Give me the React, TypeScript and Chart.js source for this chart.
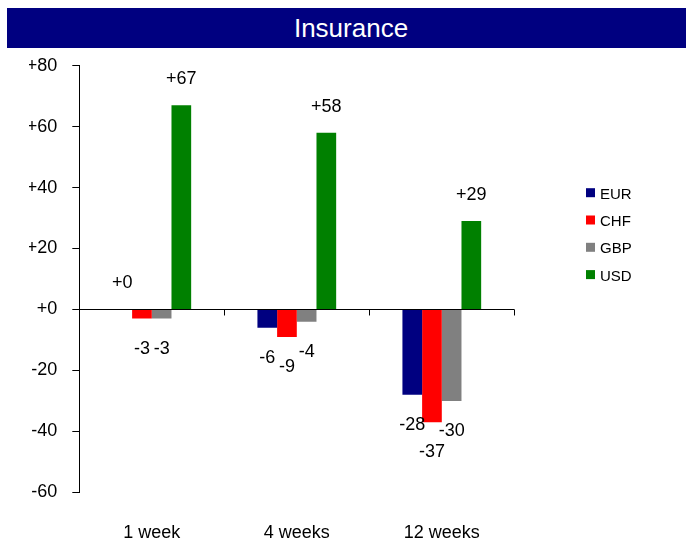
import React, { useEffect, useRef } from 'react';
import { Chart, registerables } from 'chart.js';

Chart.register(...registerables);

const categories = ['1 week', '4 weeks', '12 weeks'];
const seriesNames = ['EUR', 'CHF', 'GBP', 'USD'];
const eurValues = [0, -6, -28];
const chfValues = [-3, -9, -37];
const gbpValues = [-3, -4, -30];
const usdValues = [67, 58, 29];
const seriesColors = ['#000080', '#FF0000', '#808080', '#008000'];
const yMin = -60;
const yMax = 80;
const yStep = 20;
const titleText = 'Insurance';

const FONT = 'Arial, "Liberation Sans", Helvetica, sans-serif';

const fmt = (v: number) => (v >= 0 ? '+' + v : String(v));

const labelPlugin = {
  id: 'valueLabels',
  afterDatasetsDraw(chart: any) {
    const ctx = chart.ctx;
    ctx.save();
    ctx.font = `18px ${FONT}`;
    ctx.fillStyle = '#000';
    ctx.textAlign = 'center';
    ctx.textBaseline = 'middle';
    chart.data.datasets.forEach((ds: any, i: number) => {
      const meta = chart.getDatasetMeta(i);
      meta.data.forEach((bar: any, j: number) => {
        const v = ds.data[j];
        const y = v >= 0 ? bar.y - 26 : bar.y + 30;
        ctx.fillText(fmt(v), bar.x, y);
      });
    });
    ctx.restore();
  },
};

const axisMarksPlugin = {
  id: 'axisMarks',
  afterDraw(chart: any) {
    const ctx = chart.ctx;
    const xs = chart.scales.x;
    const ys = chart.scales.y;
    const zeroY = ys.getPixelForValue(0);
    ctx.save();
    ctx.strokeStyle = '#000';
    ctx.lineWidth = 1;
    const n = categories.length;
    for (let i = 0; i < n; i++) {
      const px =
        i < n - 1
          ? (xs.getPixelForValue(i) + xs.getPixelForValue(i + 1)) / 2
          : chart.chartArea.right;
      const x = Math.round(px) + 0.5;
      ctx.beginPath();
      ctx.moveTo(x, zeroY);
      ctx.lineTo(x, zeroY + 6);
      ctx.stroke();
    }
    ctx.restore();
  },
};

const legendPlugin = {
  id: 'customLegend',
  afterDraw(chart: any) {
    const ctx = chart.ctx;
    ctx.save();
    ctx.font = `15px ${FONT}`;
    ctx.textAlign = 'left';
    ctx.textBaseline = 'middle';
    chart.data.datasets.forEach((ds: any, i: number) => {
      const cy = 194.7 + i * 27.3;
      ctx.fillStyle = ds.backgroundColor;
      ctx.fillRect(586, cy - 6.5, 9, 9);
      ctx.fillStyle = '#000';
      ctx.fillText(ds.label, 600, cy);
    });
    ctx.restore();
  },
};

export default function App() {
  const canvasRef = useRef<HTMLCanvasElement | null>(null);

  useEffect(() => {
    if (!canvasRef.current) return;
    const valueSets = [eurValues, chfValues, gbpValues, usdValues];
    const chart = new Chart(canvasRef.current, {
      type: 'bar',
      data: {
        labels: categories,
        datasets: seriesNames.map((name, i) => ({
          label: name,
          data: valueSets[i],
          backgroundColor: seriesColors[i],
          borderWidth: 0,
          categoryPercentage: 0.543,
          barPercentage: 1,
        })),
      },
      options: {
        responsive: false,
        animation: false,
        events: [],
        layout: { padding: { left: 29, right: 171.7, top: 65.7, bottom: 0 } },
        plugins: {
          legend: { display: false },
          title: { display: false },
          tooltip: { enabled: false },
        },
        scales: {
          x: {
            type: 'category',
            position: 'bottom',
            grid: { display: false },
            border: { display: false },
            ticks: {
              color: '#000',
              font: { family: FONT, size: 18 },
              padding: 22,
              maxRotation: 0,
            },
            afterFit: (s: any) => {
              s.height = 48.7;
            },
          },
          y: {
            min: yMin,
            max: yMax,
            border: { display: true, color: '#000', width: 1 },
            grid: {
              drawOnChartArea: true,
              color: (c: any) => (c.tick && c.tick.value === 0 ? '#000' : 'rgba(0,0,0,0)'),
              tickColor: '#000',
              tickLength: 7,
              lineWidth: 1,
            },
            ticks: {
              stepSize: yStep,
              color: '#000',
              font: { family: FONT, size: 18 },
              padding: 15,
              callback: (v: any) => fmt(Number(v)),
            },
            afterFit: (s: any) => {
              s.width = 50.3;
            },
          },
        },
      },
      plugins: [labelPlugin, axisMarksPlugin, legendPlugin],
    });
    return () => chart.destroy();
  }, []);

  return (
    <div
      style={{
        position: 'fixed',
        left: 0,
        top: 0,
        width: 686,
        height: 541,
        background: '#fff',
        overflow: 'hidden',
      }}
    >
      <canvas
        ref={canvasRef}
        width={686}
        height={541}
        style={{ position: 'absolute', left: 0, top: 0, width: 686, height: 541 }}
      />
      <div
        style={{
          position: 'absolute',
          left: 7,
          top: 8,
          width: 679,
          height: 40,
          boxSizing: 'border-box',
          paddingLeft: 9,
          background: '#000080',
          color: '#fff',
          fontFamily: FONT,
          fontSize: 26,
          lineHeight: '40px',
          textAlign: 'center',
        }}
      >
        {titleText}
      </div>
    </div>
  );
}
